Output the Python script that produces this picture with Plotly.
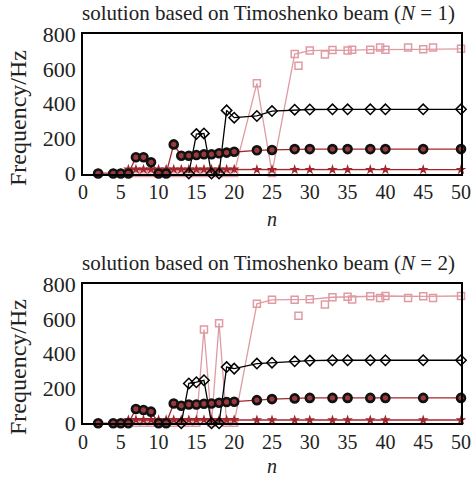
import plotly.graph_objects as go

# ---------------- data: N = 1 ----------------
n_circ = [2, 4, 5, 6, 7, 8, 9, 10, 11, 12, 13, 14, 15, 16, 17, 18, 19, 20, 23, 25, 28, 30, 33, 35, 38, 40, 45, 50]
n_star = [2, 4, 5, 6, 7, 8, 9, 10, 11, 12, 13, 14, 15, 16, 17, 18, 19, 20, 23, 25, 28, 30, 33, 35, 38, 40, 45, 50]
n_pink = [6, 7, 8, 9, 10, 11, 12, 13, 14, 15, 16, 17, 18, 19, 20, 23, 25, 28, 30, 33, 35, 38, 40, 45, 50]
n_extra = [28.5, 32, 35.6, 39.3, 43, 46.3]

star1 = [0, 0, 0, 24, 24, 24, 24, 24, 24, 24, 24, 24, 24, 24, 24, 24, 24, 24, 22, 22, 22, 22, 22, 22, 22, 22, 22, 22]
circ1 = [0, 0, 0, 0, 93, 93, 64, 0, 0, 167, 102, 102, 106, 110, 110, 116, 120, 125, 133, 135, 140, 140, 140, 140, 140, 140, 140, 140]
n_diam1 = [14, 15, 16, 17, 18, 19, 20, 23, 25, 28, 30, 33, 35, 38, 40, 45, 50]
diam1 = [0, 226, 230, 0, 0, 362, 320, 330, 358, 366, 367, 368, 368, 368, 368, 368, 368]
pink1 = [3, 3, 3, 3, 3, 3, 3, 3, 3, 3, 3, 3, 3, 3, 3, 517, 3, 685, 705, 708, 706, 710, 710, 712, 715]
extra1 = [618, 683, 710, 722, 722, 722]

# ---------------- data: N = 2 ----------------
star2 = [0, 0, 0, 20, 20, 20, 20, 20, 20, 20, 20, 20, 20, 20, 20, 20, 20, 20, 19, 19, 19, 19, 19, 19, 19, 19, 19, 19]
circ2 = [0, 0, 0, 0, 82, 76, 67, 0, 0, 114, 101, 108, 108, 112, 114, 118, 122, 124, 133, 139, 143, 146, 146, 146, 146, 146, 146, 146]
n_diam2 = [13, 14, 15, 16, 17, 18, 19, 20, 23, 25, 28, 30, 33, 35, 38, 40, 45, 50]
diam2 = [0, 229, 236, 247, 0, 0, 323, 314, 343, 348, 356, 360, 362, 362, 362, 362, 362, 362]
pink2 = [3, 3, 3, 3, 3, 3, 3, 3, 3, 3, 539, 3, 575, 3, 3, 686, 709, 709, 712, 724, 727, 729, 731, 729, 731]
extra2 = [617, 682, 711, 720, 720, 720]

x_ticks = [0, 5, 10, 15, 20, 25, 30, 35, 40, 45, 50]
y_ticks = [0, 200, 400, 600, 800]
titles = ["solution based on Timoshenko beam (<i>N</i> = 1)",
          "solution based on Timoshenko beam (<i>N</i> = 2)"]

PINK = "#e09aa2"
DRED = "#a3262c"
FONT = "Liberation Serif"

fig = go.Figure()

def add_panel(k, star, circ, n_diam, diam, pink, extra):
    xa = "x" if k == 1 else "x2"
    ya = "y" if k == 1 else "y2"
    common = dict(xaxis=xa, yaxis=ya, showlegend=False, cliponaxis=False)
    fig.add_trace(go.Scatter(x=n_pink, y=pink, mode="lines+markers",
                             line=dict(color=PINK, width=1.3),
                             marker=dict(symbol="square-open", size=7, color=PINK, line=dict(width=1.5)),
                             **common))
    fig.add_trace(go.Scatter(x=n_extra, y=extra, mode="markers",
                             marker=dict(symbol="square-open", size=7, color=PINK, line=dict(width=1.5)),
                             **common))
    fig.add_trace(go.Scatter(x=n_star, y=star, mode="lines+markers",
                             line=dict(color=DRED, width=1.3),
                             marker=dict(symbol="star", size=8, color=DRED, line=dict(width=0)),
                             **common))
    fig.add_trace(go.Scatter(x=n_diam, y=diam, mode="lines+markers",
                             line=dict(color="black", width=1.3),
                             marker=dict(symbol="diamond-open", size=8, color="black", line=dict(width=1.5)),
                             **common))
    fig.add_trace(go.Scatter(x=n_circ, y=circ, mode="lines+markers",
                             line=dict(color=DRED, width=1.3),
                             marker=dict(symbol="circle", size=8, color="#9a3a3e",
                                         line=dict(color="#111", width=2.6)),
                             **common))

add_panel(1, star1, circ1, n_diam1, diam1, pink1, extra1)
add_panel(2, star2, circ2, n_diam2, diam2, pink2, extra2)

W, H = 473, 479

def px(xpix):
    return xpix / W

def py(ypix):
    return 1 - ypix / H

xdom = [px(83), px(461)]
ydom1 = [py(173.5), py(34)]
ydom2 = [py(423.3), py(284)]

axis_common = dict(showline=True, linecolor="black", linewidth=1.5, mirror=True,
                   showgrid=False, zeroline=False, ticks="", automargin=False)
xfont = dict(family=FONT, size=20, color="#222")
yfont = dict(family=FONT, size=22, color="#222")

fig.update_layout(
    template="none",
    width=W, height=H,
    margin=dict(l=0, r=0, t=0, b=0, pad=0, autoexpand=False),
    paper_bgcolor="white", plot_bgcolor="white",
    xaxis=dict(domain=xdom, range=[0, 50], tickvals=x_ticks, anchor="y", tickfont=xfont,
               ticklabelstandoff=0, **axis_common),
    yaxis=dict(domain=ydom1, range=[0, 800], tickvals=y_ticks, anchor="x", tickfont=yfont,
               ticklabelstandoff=1, **axis_common),
    xaxis2=dict(domain=xdom, range=[0, 50], tickvals=x_ticks, anchor="y2", tickfont=xfont,
                ticklabelstandoff=0, **axis_common),
    yaxis2=dict(domain=ydom2, range=[0, 800], tickvals=y_ticks, anchor="x2", tickfont=yfont,
                ticklabelstandoff=1, **axis_common),
)

ann = []
for t, ytop, ylab, yn in [(titles[0], 34, 118, 219), (titles[1], 284, 367, 466)]:
    ann.append(dict(text=t, x=px(268), y=py(ytop - 21), xref="paper", yref="paper",
                    showarrow=False, font=dict(family=FONT, size=21, color="#222"),
                    xanchor="center", yanchor="middle"))
    ann.append(dict(text="Frequency/Hz", x=px(18), y=py(ylab),
                    xref="paper", yref="paper", textangle=-90, showarrow=False,
                    font=dict(family=FONT, size=24, color="#222"),
                    xanchor="center", yanchor="middle"))
    ann.append(dict(text="<i>n</i>", x=px(272), y=py(yn), xref="paper", yref="paper",
                    showarrow=False, font=dict(family=FONT, size=20, color="#222"),
                    xanchor="center", yanchor="middle"))
fig.update_layout(annotations=ann)

fig.write_html("out.html", config={"displayModeBar": False},
               post_script="document.body.style.margin='0px';")
